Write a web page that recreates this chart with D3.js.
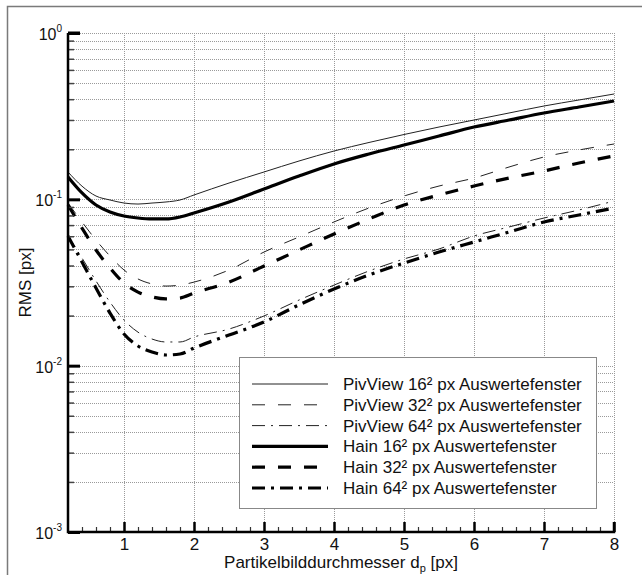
<!DOCTYPE html>
<html>
<head>
<meta charset="utf-8">
<script src="https://cdn.jsdelivr.net/npm/d3@7"></script>
<style>
  body { margin: 0; background: #fff; }
  text { font-family: Arial, "Liberation Sans", sans-serif; fill: #111; }
</style>
</head>
<body>
<svg id="chart" width="642" height="575"></svg>
<script>
// Partikelbilddurchmesser d_p [px]
var dp = [0.2, 0.4, 0.6, 0.8, 1.0, 1.2, 1.4, 1.6, 1.8, 2.0, 2.5, 3.0, 3.5, 4.0, 4.5, 5.0, 5.5, 6.0, 6.5, 7.0, 7.5, 8.0];

// RMS [px] je Auswertefenster
var pivView16 = [0.146, 0.120, 0.1047, 0.0991, 0.0950, 0.0937, 0.0950, 0.0964, 0.0991, 0.1062, 0.1253, 0.146, 0.170, 0.1952, 0.2197, 0.2453, 0.2721, 0.2998, 0.3304, 0.364, 0.3956, 0.4298];
var pivView32 = [0.095, 0.0731, 0.0569, 0.0456, 0.0376, 0.0332, 0.031, 0.0301, 0.0305, 0.0318, 0.0376, 0.0482, 0.0594, 0.0731, 0.0887, 0.1047, 0.1202, 0.1343, 0.1564, 0.1797, 0.198, 0.2151];
var pivView64 = [0.0602, 0.0444, 0.0323, 0.0241, 0.0188, 0.0159, 0.01446, 0.01388, 0.01388, 0.01487, 0.0166, 0.0199, 0.0248, 0.0305, 0.0371, 0.0438, 0.0503, 0.0602, 0.0682, 0.0772, 0.0863, 0.0977];
var hain16 = [0.1362, 0.1092, 0.0924, 0.0839, 0.0794, 0.0772, 0.0762, 0.0762, 0.0783, 0.0828, 0.0964, 0.1154, 0.1381, 0.1632, 0.1873, 0.2122, 0.2402, 0.2721, 0.2998, 0.3304, 0.359, 0.3902];
var hain32 = [0.0924, 0.0672, 0.0496, 0.0387, 0.0314, 0.0277, 0.0259, 0.0252, 0.0255, 0.0273, 0.0318, 0.0397, 0.0496, 0.0619, 0.0762, 0.0924, 0.1062, 0.1202, 0.1343, 0.1481, 0.1654, 0.1822];
var hain64 = [0.0602, 0.042, 0.0293, 0.0207, 0.0155, 0.01313, 0.01208, 0.01159, 0.01175, 0.01277, 0.01528, 0.0183, 0.0232, 0.0289, 0.0351, 0.0414, 0.0482, 0.0554, 0.0636, 0.0731, 0.0805, 0.0887];

var seriesNames = ["PivView 16² px Auswertefenster", "PivView 32² px Auswertefenster", "PivView 64² px Auswertefenster",
                   "Hain 16² px Auswertefenster", "Hain 32² px Auswertefenster", "Hain 64² px Auswertefenster"];
var xTicks = [1, 2, 3, 4, 5, 6, 7, 8];
var yDecades = [0.001, 0.01, 0.1, 1];
var yExponents = ["-3", "-2", "-1", "0"];

// Linienstile
var styles = [
  { w: 1, dash: null, color: "#222" },
  { w: 1, dash: "13,13", color: "#222" },
  { w: 1, dash: "13,6,2,6", color: "#222" },
  { w: 3.2, dash: null, color: "#000" },
  { w: 3.2, dash: "13,13", color: "#000" },
  { w: 3.2, dash: "13,6,3,6", color: "#000" }
];
var allSeries = [pivView16, pivView32, pivView64, hain16, hain32, hain64];

var svg = d3.select("#chart");
var pLeft = 68, pRight = 614, pTop = 33, pBottom = 532;

// Rahmen
svg.append("path")
  .attr("d", "M7.5,575 L7.5,6.5 L642,6.5")
  .attr("fill", "none")
  .attr("stroke", "#7a7a7a")
  .attr("stroke-width", 1.5);

var x = d3.scaleLinear().domain([0.2, 8]).range([pLeft, pRight]);
var y = d3.scaleLog().domain([0.001, 1]).range([pBottom, pTop]);

// Gitter
var yMinor = [];
yDecades.slice(0, 3).forEach(function(dec) {
  for (var k = 2; k <= 9; k++) yMinor.push(dec * k);
});
var grid = svg.append("g")
  .attr("stroke", "#9a9a9a")
  .attr("stroke-width", 1)
  .attr("stroke-dasharray", "1,1");
grid.selectAll(".gy")
  .data(yMinor.concat([0.01, 0.1, 1]))
  .enter().append("line")
  .attr("x1", pLeft).attr("x2", pRight)
  .attr("y1", function(d) { return Math.round(y(d)) + 0.5; })
  .attr("y2", function(d) { return Math.round(y(d)) + 0.5; });
grid.selectAll(".gx")
  .data(xTicks)
  .enter().append("line")
  .attr("y1", pTop).attr("y2", pBottom)
  .attr("x1", function(d) { return Math.round(x(d)) + 0.5; })
  .attr("x2", function(d) { return Math.round(x(d)) + 0.5; });

// Kurven
var line = d3.line()
  .x(function(d) { return x(d[0]); })
  .y(function(d) { return y(d[1]); })
  .curve(d3.curveMonotoneX);

allSeries.forEach(function(vals, i) {
  var st = styles[i];
  svg.append("path")
    .datum(dp.map(function(v, j) { return [v, vals[j]]; }))
    .attr("d", line)
    .attr("fill", "none")
    .attr("stroke", st.color)
    .attr("stroke-width", st.w)
    .attr("stroke-dasharray", st.dash);
});

// x-Achse
var xMinor = d3.range(0.4, 7.9, 0.2).filter(function(v) { return Math.abs(v - Math.round(v)) > 0.05; });
svg.append("g")
  .attr("transform", "translate(0," + pBottom + ")")
  .call(d3.axisBottom(x).tickValues(xMinor).tickSize(-5).tickFormat(""))
  .call(function(g) { g.select(".domain").remove(); g.selectAll("line").attr("stroke", "#333").attr("stroke-width", 1.2); });
var xAxis = svg.append("g")
  .attr("transform", "translate(0," + pBottom + ")")
  .call(d3.axisBottom(x).tickValues(xTicks).tickSize(-10).tickPadding(6));
xAxis.select(".domain").remove();
xAxis.selectAll("line").attr("stroke", "#000").attr("stroke-width", 2.5);
xAxis.selectAll("text").attr("font-size", 17).attr("font-family", "Arial, 'Liberation Sans', sans-serif").attr("fill", "#111");

// y-Achse
svg.append("g")
  .attr("transform", "translate(" + pLeft + ",0)")
  .call(d3.axisLeft(y).tickValues(yMinor).tickSize(-6).tickFormat(""))
  .call(function(g) { g.select(".domain").remove(); g.selectAll("line").attr("stroke", "#444").attr("stroke-width", 1.5); });
var yAxis = svg.append("g")
  .attr("transform", "translate(" + pLeft + ",0)")
  .call(d3.axisLeft(y).tickValues(yDecades).tickSize(-12).tickFormat(""));
yAxis.select(".domain").remove();
yAxis.selectAll("line").attr("stroke", "#000").attr("stroke-width", 3);

yDecades.forEach(function(d, i) {
  var t = svg.append("text")
    .attr("x", 62)
    .attr("y", y(d) + 7)
    .attr("text-anchor", "end")
    .attr("font-size", 16);
  t.append("tspan").text("10");
  t.append("tspan").attr("dy", -8).attr("font-size", 10).text(yExponents[i]);
});

// Achsenlinien
svg.append("path")
  .attr("d", "M" + pLeft + "," + pTop + " L" + pLeft + "," + pBottom + " L" + pRight + "," + pBottom + " L" + pRight + "," + (pBottom - 10))
  .attr("fill", "none")
  .attr("stroke", "#000")
  .attr("stroke-width", 2.5);
svg.append("line")
  .attr("x1", pLeft).attr("x2", pLeft + 12)
  .attr("y1", pTop).attr("y2", pTop)
  .attr("stroke", "#000").attr("stroke-width", 3);

// Achsentitel
var xt = svg.append("text")
  .attr("x", (pLeft + pRight) / 2)
  .attr("y", 568)
  .attr("text-anchor", "middle")
  .attr("font-size", 17);
xt.append("tspan").text("Partikelbilddurchmesser d");
xt.append("tspan").attr("dy", 4).attr("font-size", 11).text("p");
xt.append("tspan").attr("dy", -4).text(" [px]");

svg.append("text")
  .attr("transform", "translate(31," + (pTop + pBottom) / 2 + ") rotate(-90)")
  .attr("text-anchor", "middle")
  .attr("font-size", 17)
  .text("RMS [px]");

// Legende
var legend = svg.append("g");
legend.append("rect")
  .attr("x", 239.5).attr("y", 357.5)
  .attr("width", 357).attr("height", 151)
  .attr("fill", "#fff")
  .attr("stroke", "#888")
  .attr("stroke-width", 1);
seriesNames.forEach(function(name, i) {
  var st = styles[i];
  var ly = 384 + i * 20.8;
  legend.append("line")
    .attr("x1", 252).attr("x2", 328)
    .attr("y1", ly).attr("y2", ly)
    .attr("stroke", st.color)
    .attr("stroke-width", st.w)
    .attr("stroke-dasharray", st.dash);
  legend.append("text")
    .attr("x", 343)
    .attr("y", ly + 6)
    .attr("font-size", 17)
    .text(name);
});
</script>
</body>
</html>
